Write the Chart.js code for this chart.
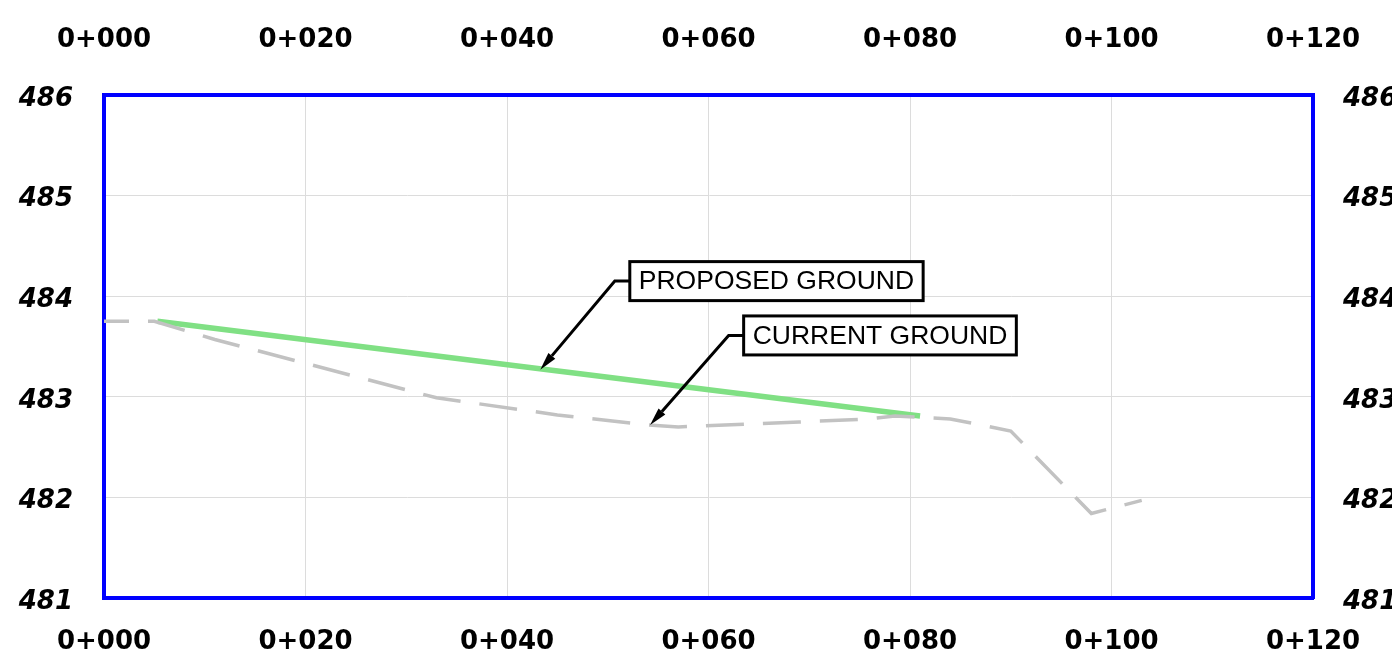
<!DOCTYPE html>
<html>
<head>
<meta charset="utf-8">
<script src="https://cdn.jsdelivr.net/npm/chart.js@4"></script>
<style>
  html, body { margin: 0; padding: 0; background: #ffffff; overflow: hidden; }
  #wrap { width: 1392px; height: 665px; position: relative; }
  canvas { display: block; }
</style>
</head>
<body>
<div id="wrap"><canvas id="c"></canvas></div>
<script>
// ---- data ----
const xTickValues = [0, 20, 40, 60, 80, 100, 120];
const xTickLabels = ['0+000', '0+020', '0+040', '0+060', '0+080', '0+100', '0+120'];
const yTickValues = [481, 482, 483, 484, 485, 486];
const yTickLabels = ['481', '482', '483', '484', '485', '486'];

const currentStation = [0, 5, 11, 33, 45, 54, 57, 69, 76, 78.5, 84, 90, 98, 103];
const currentElev    = [483.75, 483.75, 483.57, 482.99, 482.82, 482.72, 482.70, 482.75, 482.78, 482.81, 482.78, 482.66, 481.84, 481.97];

const proposedStation = [5.3, 81];
const proposedElev    = [483.75, 482.81];

const calloutLabels   = ['PROPOSED GROUND', 'CURRENT GROUND'];
const calloutTipX     = [43.3, 54.2];
const calloutTipY     = [483.27, 482.72];
const calloutElbowX   = [50.7, 62.0];
const calloutElbowY   = [484.15, 483.61];

// ---- helpers ----
const toPoints = (xs, ys) => xs.map((x, i) => ({ x: x, y: ys[i] }));
const xLabel = v => { const i = xTickValues.indexOf(v); return i >= 0 ? xTickLabels[i] : ''; };
const yLabel = v => { const i = yTickValues.indexOf(v); return i >= 0 ? yTickLabels[i] : ''; };
const hideEdge = ctx => (ctx.index === 0 || ctx.index === ctx.scale.ticks.length - 1) ? 'rgba(0,0,0,0)' : '#dcdcdc';

const tickFontX = { family: 'DejaVu Sans', size: 26, weight: 'bold' };
const tickFontXTop = { family: 'DejaVu Sans', size: 26, weight: 'bold', lineHeight: 3.96 };
const tickFontY = { family: 'DejaVu Sans', size: 26, weight: 'bold', style: 'italic' };
const blueBorder = { display: true, color: '#0000ff', width: 4 };

const calloutPlugin = {
  id: 'callouts',
  afterDatasetsDraw(chart) {
    const ctx = chart.ctx;
    const xs = chart.scales.x, ys = chart.scales.y;
    ctx.save();
    ctx.font = '26.5px "Liberation Sans", Arial, sans-serif';
    for (let i = 0; i < calloutLabels.length; i++) {
      const tx = xs.getPixelForValue(calloutTipX[i]);
      const ty = ys.getPixelForValue(calloutTipY[i]);
      const ex = xs.getPixelForValue(calloutElbowX[i]);
      const ey = ys.getPixelForValue(calloutElbowY[i]);
      const gap = 15;
      const tw = ctx.measureText(calloutLabels[i]).width;
      const bw = tw + 18, bh = 39;
      const bx = ex + gap, by = ey - bh / 2;
      // leader
      ctx.strokeStyle = '#000';
      ctx.lineWidth = 3;
      ctx.lineJoin = 'miter';
      ctx.beginPath();
      ctx.moveTo(bx, ey);
      ctx.lineTo(ex, ey);
      const ang = Math.atan2(ty - ey, tx - ex);
      const ah = 18, aw = 4.5;
      const bxA = tx - ah * Math.cos(ang), byA = ty - ah * Math.sin(ang);
      ctx.lineTo(bxA, byA);
      ctx.stroke();
      // arrowhead
      ctx.fillStyle = '#000';
      ctx.beginPath();
      ctx.moveTo(tx, ty);
      ctx.lineTo(bxA + aw * Math.sin(ang), byA - aw * Math.cos(ang));
      ctx.lineTo(bxA - aw * Math.sin(ang), byA + aw * Math.cos(ang));
      ctx.closePath();
      ctx.fill();
      // box
      ctx.fillStyle = '#fff';
      ctx.fillRect(bx, by, bw, bh);
      ctx.lineWidth = 3;
      ctx.strokeRect(bx, by, bw, bh);
      ctx.fillStyle = '#000';
      ctx.textAlign = 'center';
      ctx.textBaseline = 'middle';
      ctx.fillText(calloutLabels[i], bx + bw / 2, ey + 1);
    }
    ctx.restore();
  }
};

new Chart(document.getElementById('c'), {
  type: 'line',
  data: {
    datasets: [
      {
        label: 'Current Ground',
        data: toPoints(currentStation, currentElev),
        borderColor: '#c2c2c2',
        borderWidth: 3.5,
        borderDash: [38, 19],
        borderDashOffset: 13,
        pointRadius: 0,
        fill: false,
        tension: 0
      },
      {
        label: 'Proposed Ground',
        data: toPoints(proposedStation, proposedElev),
        borderColor: '#80e084',
        borderWidth: 5.5,
        pointRadius: 0,
        fill: false,
        tension: 0
      }
    ]
  },
  options: {
    responsive: true,
    maintainAspectRatio: false,
    animation: false,
    layout: { padding: 0 },
    plugins: { legend: { display: false }, tooltip: { enabled: false } },
    scales: {
      x: {
        type: 'linear', position: 'bottom', min: 0, max: 120,
        afterBuildTicks: s => { s.ticks = xTickValues.map(v => ({ value: v })); },
        ticks: { callback: xLabel, font: tickFontX, color: '#000', maxRotation: 0, autoSkip: false, padding: 29 },
        grid: { color: hideEdge, lineWidth: 1, drawTicks: false },
        border: blueBorder,
        afterFit: s => { s.height = 67; }
      },
      x2: {
        type: 'linear', position: 'top', min: 0, max: 120,
        afterBuildTicks: s => { s.ticks = xTickValues.map(v => ({ value: v })); },
        ticks: { callback: xLabel, font: tickFontXTop, color: '#000', maxRotation: 0, autoSkip: false, padding: 3 },
        grid: { display: false, drawTicks: false },
        border: blueBorder,
        afterFit: s => { s.height = 95; }
      },
      y: {
        type: 'linear', position: 'left', min: 481, max: 486,
        afterBuildTicks: s => { s.ticks = yTickValues.map(v => ({ value: v })); },
        ticks: { callback: yLabel, font: tickFontY, color: '#000', padding: 31, labelOffset: 4 },
        grid: { color: hideEdge, lineWidth: 1, drawTicks: false },
        border: blueBorder,
        afterFit: s => { s.width = 104; }
      },
      y2: {
        type: 'linear', position: 'right', min: 481, max: 486,
        afterBuildTicks: s => { s.ticks = yTickValues.map(v => ({ value: v })); },
        ticks: { callback: yLabel, font: tickFontY, color: '#000', padding: 30, labelOffset: 4 },
        grid: { display: false, drawTicks: false },
        border: blueBorder,
        afterFit: s => { s.width = 79; }
      }
    }
  },
  plugins: [calloutPlugin]
});
</script>
</body>
</html>
